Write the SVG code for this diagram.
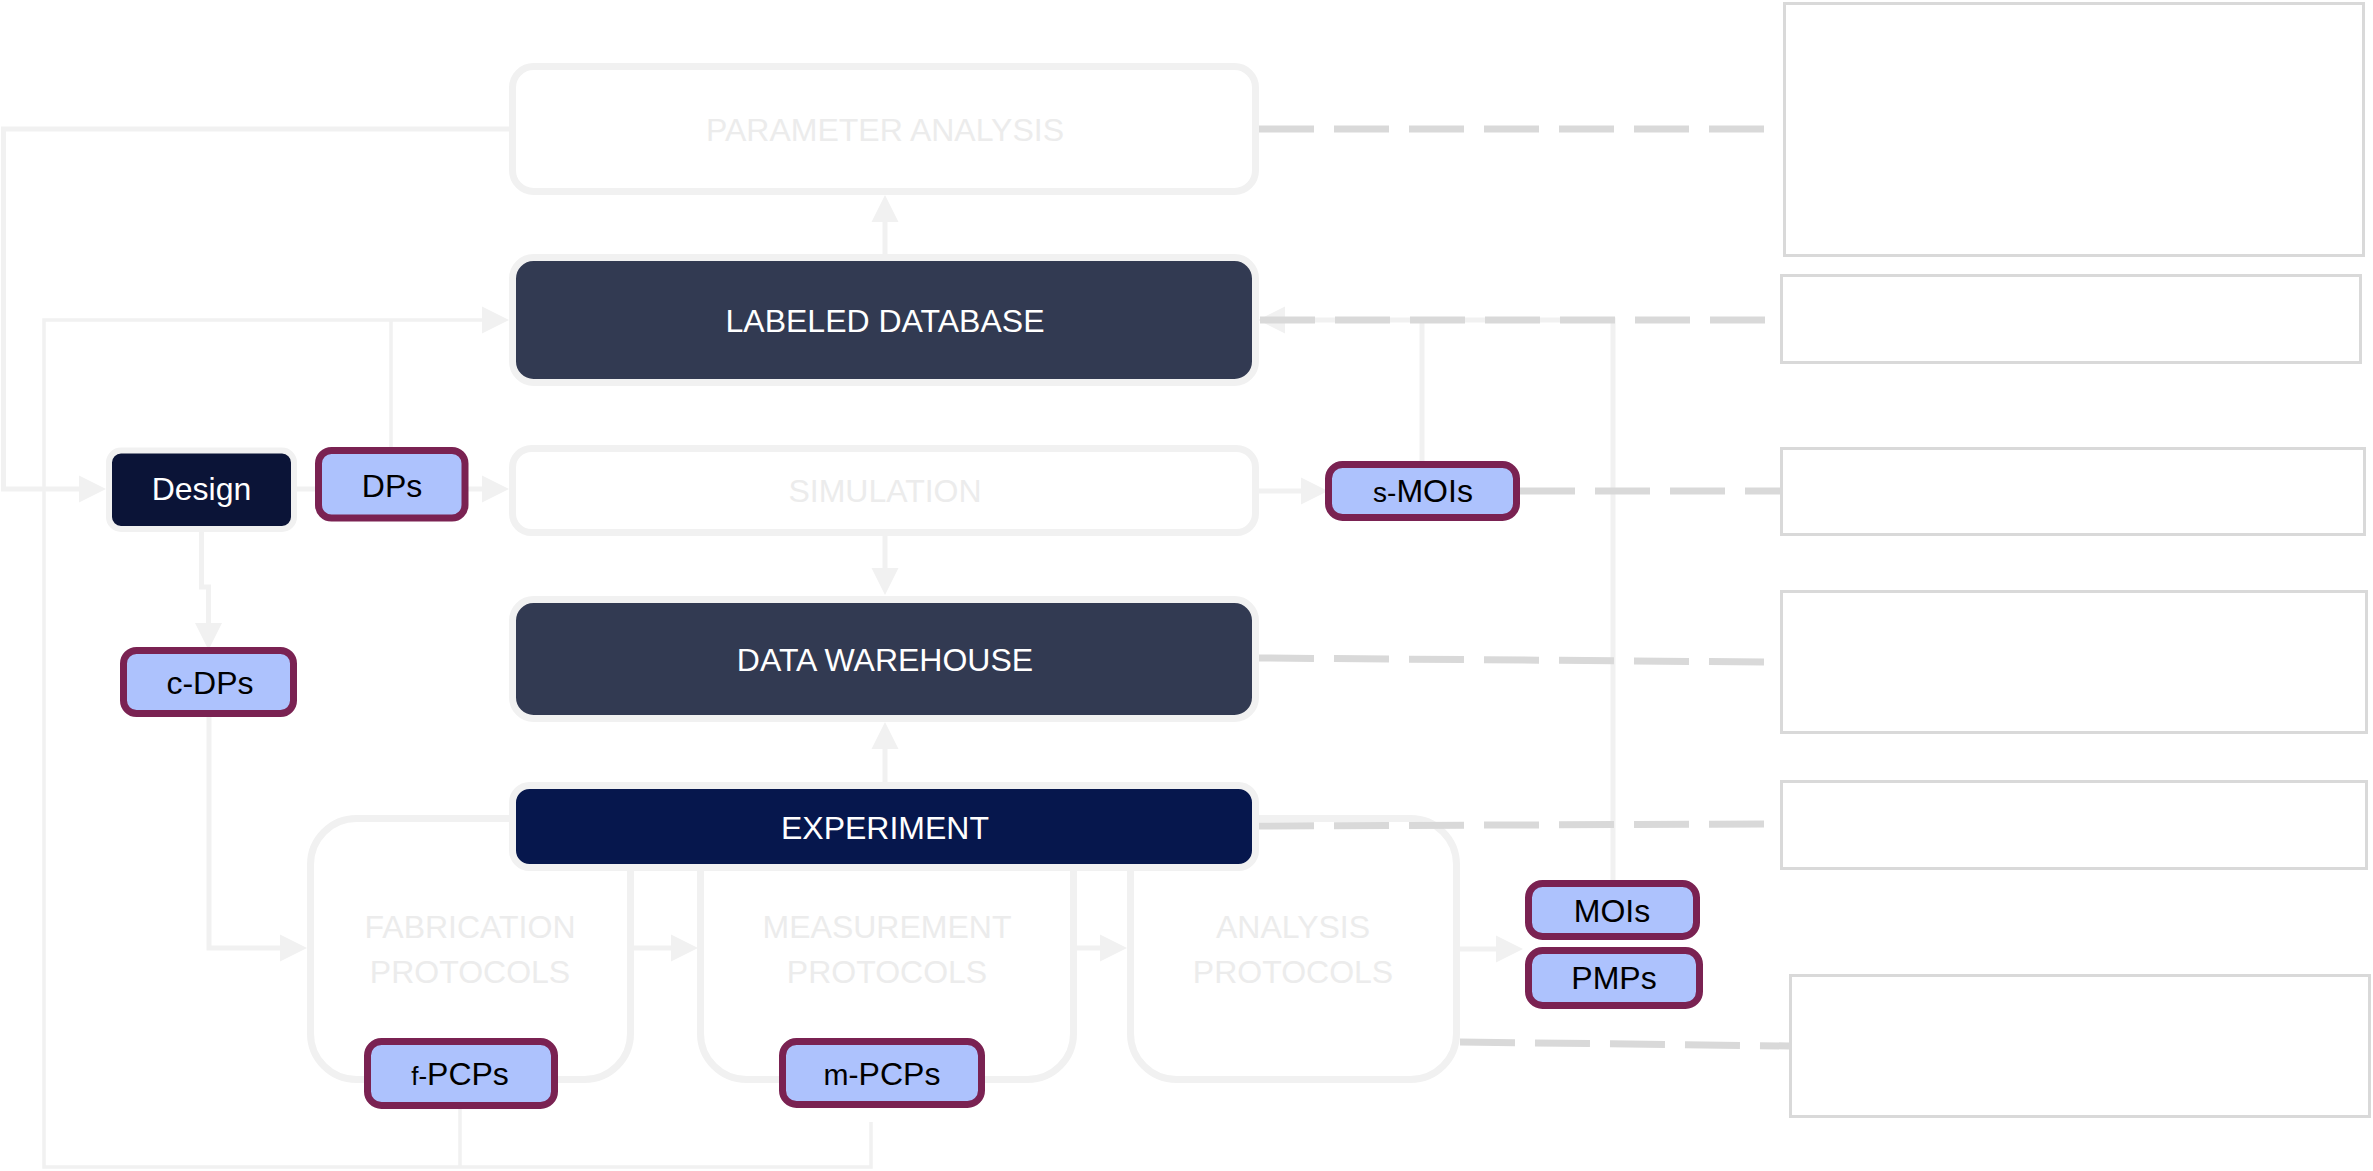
<svg xmlns="http://www.w3.org/2000/svg" width="2373" height="1171" viewBox="0 0 2373 1171">
<style>
  text { font-family: "Liberation Sans", Arial, sans-serif; font-size: 32px; text-anchor: middle; }
  .big { fill: #ffffff; stroke: #f1f1f1; stroke-width: 7; }
  .dark { fill: #323a52; stroke: #f1f1f1; stroke-width: 7; }
  .navy { fill: #06174d; stroke: #f1f1f1; stroke-width: 7; }
  .proto { fill: none; stroke: #f1f1f1; stroke-width: 7; }
  .design { fill: #0b1437; stroke: #f1f1f1; stroke-width: 6; }
  .tag { fill: #adc2fd; stroke: #7a2252; stroke-width: 7; }
  .note { fill: #ffffff; stroke: #d9d9d9; stroke-width: 3; }
  .faded { fill: #ececec; }
  .white { fill: #ffffff; }
  .black { fill: #000000; }
  .conn { fill: none; stroke: #f1f1f1; stroke-width: 5; }
  .thin { fill: none; stroke: #f1f1f1; stroke-width: 3.5; }
  .dash { fill: none; stroke: #d9d9d9; stroke-width: 7; stroke-dasharray: 55 20; }
</style>
<defs>
  <marker id="ah" markerUnits="userSpaceOnUse" markerWidth="27" markerHeight="28" refX="17" refY="14" orient="auto" viewBox="0 0 27 28">
    <path d="M0,0.5 L27,14 L0,27.5 z" fill="#f1f1f1"/>
  </marker>
</defs>
<rect width="2373" height="1171" fill="#ffffff"/>

<!-- protocol containers -->
<g id="fabrication">
  <rect class="proto" x="310.5" y="818.5" width="320" height="261" rx="46"/>
  <text class="faded" x="470" y="938">FABRICATION</text>
  <text class="faded" x="470" y="983">PROTOCOLS</text>
</g>
<g id="measurement">
  <rect class="proto" x="700.5" y="818.5" width="373" height="261" rx="46"/>
  <text class="faded" x="887" y="938">MEASUREMENT</text>
  <text class="faded" x="887" y="983">PROTOCOLS</text>
</g>
<g id="analysis">
  <rect class="proto" x="1130.5" y="818.5" width="326" height="261" rx="46"/>
  <text class="faded" x="1293" y="938">ANALYSIS</text>
  <text class="faded" x="1293" y="983">PROTOCOLS</text>
</g>

<!-- connectors -->
<g id="connectors">
  <path class="conn" d="M509,129 H3.5 V489 H96" marker-end="url(#ah)"/>
  <path class="thin" d="M871,1122 V1167 H44 V320 H499" marker-end="url(#ah)"/>
  <path class="thin" d="M460,1109 V1167"/>
  <path class="thin" d="M391,450 V320"/>
  <path class="conn" d="M297,489 H316"/>
  <path class="conn" d="M468,489 H499" marker-end="url(#ah)"/>
  <path class="conn" d="M1259,491 H1318" marker-end="url(#ah)"/>
  <path class="conn" d="M885,254 V205" marker-end="url(#ah)"/>
  <path class="conn" d="M885,536 V585" marker-end="url(#ah)"/>
  <path class="conn" d="M885,782 V732" marker-end="url(#ah)"/>
  <path class="conn" d="M201.5,532 V587 H208.5 V640" marker-end="url(#ah)"/>
  <path class="conn" d="M209,717 V948 H297" marker-end="url(#ah)"/>
  <path class="conn" d="M634,948 H688" marker-end="url(#ah)"/>
  <path class="conn" d="M1077,948 H1117" marker-end="url(#ah)"/>
  <path class="conn" d="M1460,949 H1513" marker-end="url(#ah)"/>
  <path class="conn" d="M1613,880 V320 H1268" marker-end="url(#ah)"/>
  <path class="conn" d="M1422,461 V320"/>
  <path class="dash" d="M1259,129 H1765"/>
  <path class="dash" d="M1765,320 H1259"/>
  <path class="dash" d="M1520,491 H1780"/>
  <path class="dash" d="M1259,658 L1765,662"/>
  <path class="dash" d="M1259,826 L1765,824"/>
  <path class="dash" d="M1460,1042 L1789,1046"/>
</g>

<!-- main nodes -->
<g id="parameter-analysis">
  <rect class="big" x="512.5" y="66.5" width="743" height="125" rx="21"/>
  <text class="faded" x="885" y="141">PARAMETER ANALYSIS</text>
</g>
<g id="labeled-database">
  <rect class="dark" x="512.5" y="257.5" width="743" height="125" rx="21"/>
  <text class="white" x="885" y="332">LABELED DATABASE</text>
</g>
<g id="simulation">
  <rect class="big" x="512.5" y="448.5" width="743" height="84" rx="19"/>
  <text class="faded" x="885" y="502">SIMULATION</text>
</g>
<g id="data-warehouse">
  <rect class="dark" x="512.5" y="599.5" width="743" height="119" rx="21"/>
  <text class="white" x="885" y="671">DATA WAREHOUSE</text>
</g>
<g id="experiment">
  <rect class="navy" x="512.5" y="785.5" width="743" height="82" rx="17"/>
  <text class="white" x="885" y="839">EXPERIMENT</text>
</g>
<g id="design">
  <rect class="design" x="109" y="450.5" width="185" height="78.5" rx="12"/>
  <text class="white" x="201.5" y="500">Design</text>
</g>

<!-- tag nodes -->
<g id="dps">
  <rect class="tag" x="318.5" y="450.5" width="146.5" height="67.5" rx="13"/>
  <text class="black" x="392" y="497">DPs</text>
</g>
<g id="c-dps">
  <rect class="tag" x="123.5" y="650.5" width="170" height="63" rx="13"/>
  <text class="black" x="210" y="694">c-DPs</text>
</g>
<g id="s-mois">
  <rect class="tag" x="1328.5" y="464.5" width="188" height="53" rx="14"/>
  <text class="black" x="1423" y="502"><tspan font-size="28">s-</tspan>MOIs</text>
</g>
<g id="mois">
  <rect class="tag" x="1528.5" y="883.5" width="168" height="53" rx="14"/>
  <text class="black" x="1612" y="922">MOIs</text>
</g>
<g id="pmps">
  <rect class="tag" x="1528.5" y="950.5" width="171" height="55" rx="14"/>
  <text class="black" x="1614" y="989">PMPs</text>
</g>
<g id="f-pcps">
  <rect class="tag" x="367.5" y="1041.5" width="187" height="64" rx="14"/>
  <text class="black" x="460" y="1085"><tspan font-size="26">f-</tspan>PCPs</text>
</g>
<g id="m-pcps">
  <rect class="tag" x="782.5" y="1041.5" width="199" height="63" rx="14"/>
  <text class="black" x="882" y="1085"><tspan font-size="30">m-</tspan>PCPs</text>
</g>

<!-- note boxes -->
<g id="note-1"><rect class="note" x="1784.5" y="3.5" width="579" height="252"/></g>
<g id="note-2"><rect class="note" x="1781.5" y="275.5" width="579" height="87"/></g>
<g id="note-3"><rect class="note" x="1781.5" y="448.5" width="583" height="86"/></g>
<g id="note-4"><rect class="note" x="1781.5" y="591.5" width="585" height="141"/></g>
<g id="note-5"><rect class="note" x="1781.5" y="781.5" width="585" height="87"/></g>
<g id="note-6"><rect class="note" x="1790.5" y="975.5" width="579" height="141"/></g>
</svg>
